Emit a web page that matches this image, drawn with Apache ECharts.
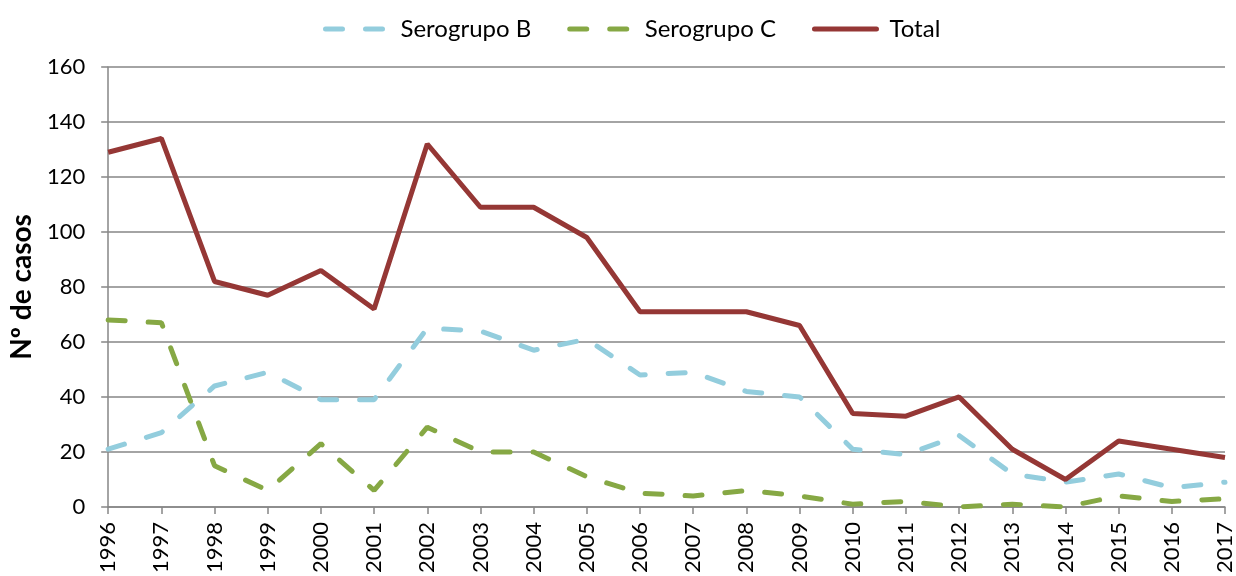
<!DOCTYPE html>
<html lang="es">
  <head>
    <meta charset="UTF-8" />
    <title>Serogrupos</title>
    <script src="https://cdn.jsdelivr.net/npm/echarts@6.0.0/dist/echarts.min.js"></script>
    <style>
      html, body { margin: 0; padding: 0; background: #fff; }
    </style>
  </head>
  <body>
    <div id="main" style="width: 1236px; height: 576px"></div>
    <script type="text/javascript">
      // data
      const years = ['1996', '1997', '1998', '1999', '2000', '2001', '2002', '2003', '2004', '2005', '2006',
        '2007', '2008', '2009', '2010', '2011', '2012', '2013', '2014', '2015', '2016', '2017'];
      const serogrupoB = [21, 27, 44, 49, 39, 39, 65, 64, 57, 61, 48, 49, 42, 40, 21, 19, 26, 12, 9, 12, 7, 9];
      const serogrupoC = [68, 67, 15, 6, 23, 6, 29, 20, 20, 11, 5, 4, 6, 4, 1, 2, 0, 1, 0, 4, 2, 3];
      const total = [129, 134, 82, 77, 86, 72, 132, 109, 109, 98, 71, 71, 71, 66, 34, 33, 40, 21, 10, 24, 21, 18];

      const axisGrey = '#868686';
      const dash = [17, 23];
      let myChart = echarts.init(document.getElementById('main'));

      let options = {
        animation: false,
        legend: {
          top: 12,
          left: 318,
          itemWidth: 62,
          itemHeight: 14,
          itemGap: 36,
          itemStyle: { opacity: 0 },
          lineStyle: { width: 5, cap: 'round' },
          textStyle: { fontFamily: 'Lato', fontSize: 24, color: '#000', padding: [0, 0, 0, 8] },
          data: ['Serogrupo B', 'Serogrupo C', 'Total']
        },
        grid: { left: 105, right: 10, top: 67, bottom: 68 },
        xAxis: {
          type: 'category',
          data: years,
          boundaryGap: false,
          axisLine: { lineStyle: { color: axisGrey, width: 1.5 } },
          axisTick: { alignWithLabel: true, length: 7, lineStyle: { color: axisGrey, width: 1.5 } },
          axisLabel: { rotate: 90, color: '#000', fontSize: 22, fontFamily: 'Lato', margin: 15, interval: 0 }
        },
        yAxis: {
          type: 'value',
          min: 0,
          max: 160,
          interval: 20,
          name: 'Nº de casos',
          nameLocation: 'middle',
          nameGap: 70,
          nameTextStyle: { fontFamily: 'Lato', fontWeight: 'bold', fontSize: 28, color: '#000' },
          axisLine: { show: true, lineStyle: { color: axisGrey, width: 1.5 } },
          axisTick: { show: true, length: 7, lineStyle: { color: axisGrey, width: 1.5 } },
          axisLabel: { color: '#000', fontSize: 22, fontFamily: 'Lato', margin: 23 },
          splitLine: { lineStyle: { color: axisGrey, width: 1.5 } }
        },
        series: [
          {
            name: 'Serogrupo B',
            type: 'line',
            data: serogrupoB,
            symbol: 'none',
            itemStyle: { color: '#93CDDD' },
            lineStyle: { color: '#93CDDD', width: 5, type: dash, cap: 'round' }
          },
          {
            name: 'Serogrupo C',
            type: 'line',
            data: serogrupoC,
            symbol: 'none',
            itemStyle: { color: '#86A844' },
            lineStyle: { color: '#86A844', width: 5, type: dash, cap: 'round' }
          },
          {
            name: 'Total',
            type: 'line',
            data: total,
            symbol: 'none',
            itemStyle: { color: '#953735' },
            lineStyle: { color: '#953735', width: 5 }
          }
        ]
      };

      myChart.setOption(options);
    </script>
  </body>
</html>
